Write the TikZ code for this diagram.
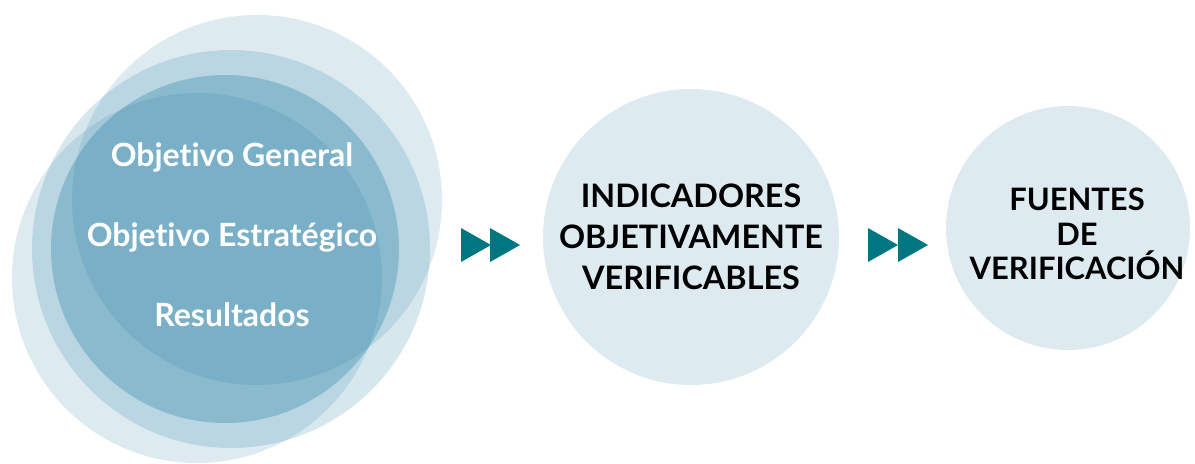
\documentclass[tikz,border=0pt]{standalone}
\usepackage{fontspec}
\setmainfont{Lato}[Ligatures={NoCommon,NoRequired,NoContextual}]
\usetikzlibrary{positioning}
\definecolor{azul}{RGB}{28,120,160}
\definecolor{verde}{RGB}{0,118,128}

\begin{document}
\begin{tikzpicture}[x=0.02cm,y=-0.02cm,
    circulo/.style={circle,fill=azul,fill opacity=0.15,text opacity=1,inner sep=0pt},
    blanco/.style={text=white,font=\bfseries\fontsize{18.2}{20}\selectfont},
    negro/.style={text=black,align=center,font=\bfseries\fontsize{18.4}{23.5}\selectfont},
    negrito/.style={text=black,align=center,font=\bfseries\fontsize{17.6}{19.6}\selectfont}]
\useasboundingbox (0,0) rectangle (1195,463);

%circulos superpuestos
\fill[azul,fill opacity=0.15] (257,200) circle (185);
\fill[azul,fill opacity=0.15] (197,278) circle (185);
\fill[azul,fill opacity=0.18] (231,249) circle (199);
\fill[azul,fill opacity=0.3] (225,249) circle (174);
%fin

%textos
\node[blanco] (og) at (232,157) {Objetivo General};
\node[blanco] (oe) at (232,238) {Objetivo Estratégico};
\node[blanco] (res) at (232,315) {Resultados};
%fin

\node[circulo,minimum size=5.92cm] (ind) at (691,237) {};
\node[negro] (indtxt) at (691,237) {INDICADORES\\OBJETIVAMENTE\\VERIFICABLES};
\node[circulo,minimum size=4.88cm] (fue) at (1068,228) {};
\node[negrito] (fuetxt) at (1077,234) {FUENTES\\DE\\VERIFICACIÓN};

%flechas
\foreach \p in {461,490,868,898}
  \fill[verde] (\p,228) -- (\p+30,245) -- (\p,262) -- cycle;
\end{tikzpicture}
\end{document}
